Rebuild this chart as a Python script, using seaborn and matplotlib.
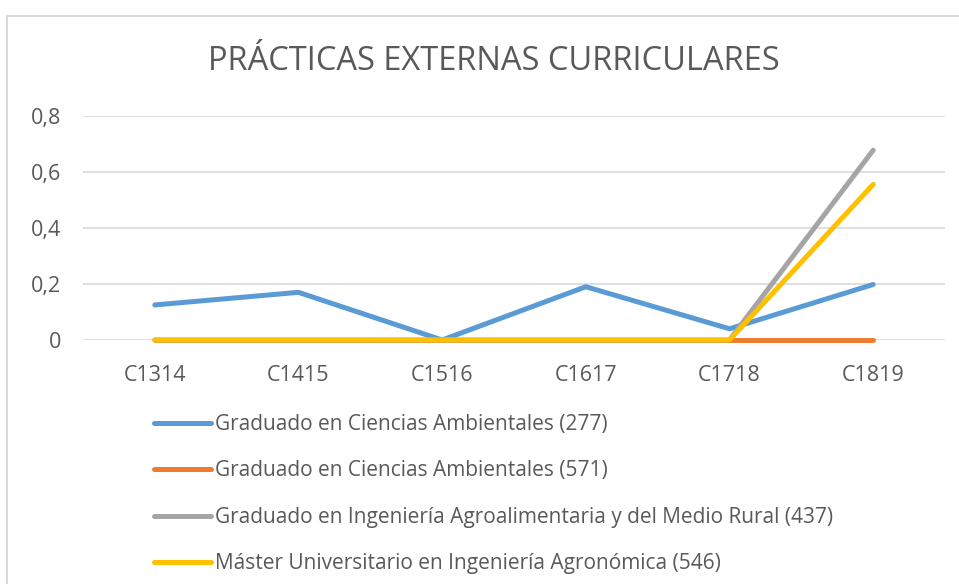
import matplotlib
matplotlib.use("Agg")
import matplotlib.pyplot as plt
from matplotlib.patches import Rectangle
from matplotlib.ticker import FuncFormatter
import seaborn as sns
import pandas as pd

cursos = ["C1314", "C1415", "C1516", "C1617", "C1718", "C1819"]
series = [
    "Graduado en Ciencias Ambientales (277)",
    "Graduado en Ciencias Ambientales (571)",
    "Graduado en Ingeniería Agroalimentaria y del Medio Rural (437)",
    "Máster Universitario en Ingeniería Agronómica (546)",
]
ccaa_277 = [0.125, 0.17, 0.0, 0.19, 0.04, 0.198]
ccaa_571 = [0.0, 0.0, 0.0, 0.0, 0.0, 0.0]
agro_437 = [0.0, 0.0, 0.0, 0.0, 0.0, 0.677]
master_546 = [0.0, 0.0, 0.0, 0.0, 0.0, 0.555]
colores = ["#5b9bd5", "#ed7d31", "#a5a5a5", "#ffc000"]

rows = []
for name, vals in zip(series, [ccaa_277, ccaa_571, agro_437, master_546]):
    for c, v in zip(cursos, vals):
        rows.append({"curso": c, "valor": v, "serie": name})
df = pd.DataFrame(rows)

sns.set_theme(style="white")
plt.rcParams["font.family"] = ["Open Sans", "DejaVu Sans"]
gris = "#595959"

fig = plt.figure(figsize=(9.59, 5.84), dpi=100)
fig.patches.append(Rectangle((7 / 959, -0.1), 1.2, 1 - 16 / 584 + 0.1,
                             transform=fig.transFigure, fill=False,
                             edgecolor="#d9d9d9", linewidth=1.5))
ax = fig.add_axes([83 / 959, 1 - 340 / 584, (945 - 83) / 959, (340 - 115.7) / 584])

sns.lineplot(data=df, x="curso", y="valor", hue="serie", hue_order=series,
             palette=colores, linewidth=3.6, ax=ax, sort=False)
for line in ax.lines:
    line.set_solid_capstyle("round")
    line.set_clip_on(False)

ax.set_xlim(-0.5, len(cursos) - 0.5)
ax.set_ylim(0, 0.8)
ax.set_yticks([0, 0.2, 0.4, 0.6, 0.8])
ax.yaxis.set_major_formatter(FuncFormatter(lambda v, p: "0" if v == 0 else f"{v:.1f}".replace(".", ",")))
ax.grid(axis="y", color="#d9d9d9", linewidth=1.2)
ax.set_axisbelow(True)
for s in ax.spines.values():
    s.set_visible(False)
ax.tick_params(axis="both", length=0, labelsize=15.5, labelcolor=gris)
ax.tick_params(axis="x", pad=18)
ax.tick_params(axis="y", pad=16)
ax.set_xlabel("")
ax.set_ylabel("")

fig.text(494 / 959, 1 - 62 / 584, "PRÁCTICAS EXTERNAS CURRICULARES", ha="center", va="center",
         fontsize=23.5, color=gris)

handles, labels = ax.get_legend_handles_labels()
for h in handles:
    h.set_solid_capstyle("round")
ax.legend(handles, labels, loc="upper left", bbox_to_anchor=(154 / 959, 1 - 414 / 584),
          bbox_transform=fig.transFigure, frameon=False, fontsize=15,
          labelcolor=gris, handlelength=2.74, handletextpad=0.2, labelspacing=1.22,
          borderaxespad=0, borderpad=0)

fig.savefig("out.png", dpi=100)
